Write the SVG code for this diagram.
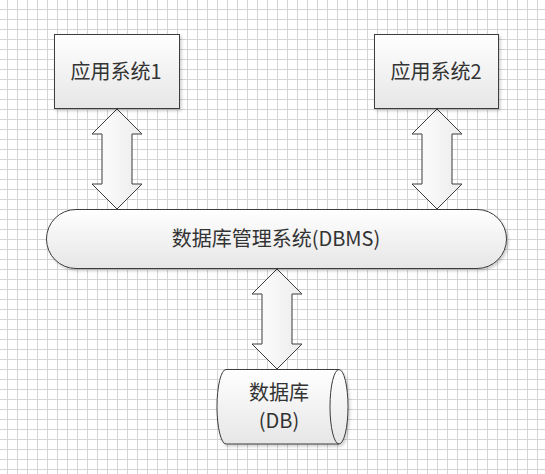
<svg xmlns="http://www.w3.org/2000/svg" width="545" height="474" viewBox="0 0 545 474">
<defs>
  <pattern id="grid" x="0" y="0" width="10" height="10" patternUnits="userSpaceOnUse">
    <path d="M7.5,0 V10 M0,9.5 H10" stroke="#d4d4d4" stroke-width="1" fill="none"/>
  </pattern>
  <linearGradient id="boxFill" x1="0" y1="0" x2="0" y2="1">
    <stop offset="0" stop-color="#ffffff"/>
    <stop offset="1" stop-color="#e6e6e6"/>
  </linearGradient>
  <linearGradient id="arrowFill" x1="0" y1="0" x2="1" y2="0">
    <stop offset="0" stop-color="#ffffff"/>
    <stop offset="1" stop-color="#ececec"/>
  </linearGradient>
  <filter id="shadow" x="-10%" y="-10%" width="130%" height="140%">
    <feDropShadow dx="1.5" dy="2" stdDeviation="1.5" flood-color="#000" flood-opacity="0.2"/>
  </filter>
</defs>
<style>
  .shape { fill: url(#boxFill); stroke: #3c3c3c; stroke-width: 1; filter: url(#shadow); }
  .arrow { fill: url(#arrowFill); stroke: #3c3c3c; stroke-width: 1; stroke-linejoin: miter; }
  .label { font-family: "Noto Sans CJK SC", "Liberation Sans", sans-serif; font-size: 20px; fill: #333333; text-anchor: middle; }
</style>
<rect x="0" y="0" width="545" height="474" fill="#ffffff"/>
<rect x="0" y="0" width="545" height="474" fill="url(#grid)"/>

<g id="connectors">
  <path class="arrow" d="M117,109 L142,134 L132,134 L132,184 L142,184 L117,209 L92,184 L102,184 L102,134 L92,134 Z"/>
  <path class="arrow" d="M437,109 L462,134 L452,134 L452,184 L462,184 L437,209 L412,184 L422,184 L422,134 L412,134 Z"/>
  <path class="arrow" d="M277,269 L302,294 L292,294 L292,344 L302,344 L277,369 L252,344 L262,344 L262,294 L252,294 Z"/>
</g>

<g id="app1">
  <rect class="shape" x="54.5" y="34.5" width="125" height="74"/>
  <text class="label" x="116" y="79">应用系统1</text>
</g>

<g id="app2">
  <rect class="shape" x="374.5" y="34.5" width="124" height="74"/>
  <text class="label" x="436" y="79">应用系统2</text>
</g>

<g id="dbms">
  <rect class="shape" x="46.5" y="209.5" width="460" height="59" rx="29.5" ry="29.5"/>
  <text class="label" x="276" y="246">数据库管理系统(DBMS)</text>
</g>

<g id="db">
  <path class="shape" d="M226,369.5 L339,369.5 A9,37.25 0 0 1 339,444 L226,444 A9,37.25 0 0 1 226,369.5 Z"/>
  <path d="M339,369.5 A9,37.25 0 0 0 339,444" fill="none" stroke="#3c3c3c" stroke-width="1"/>
  <text class="label" x="279" y="400">数据库</text>
  <text class="label" x="279" y="428">(DB)</text>
</g>
</svg>
